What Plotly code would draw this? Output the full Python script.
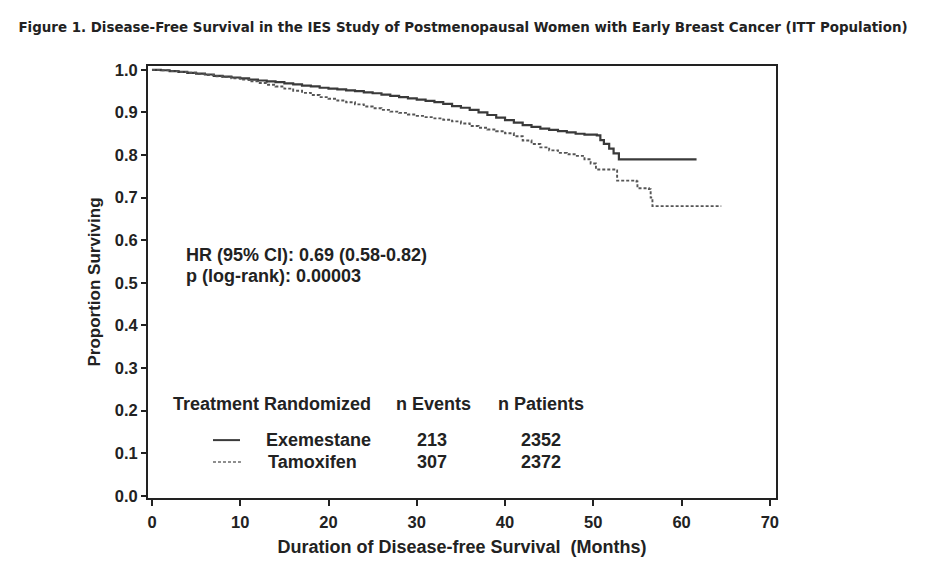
import plotly.graph_objects as go

# Exemestane Kaplan-Meier estimate (months, proportion surviving)
exe_months = [0, 1, 2, 3, 4, 5, 6, 7, 8, 9, 10, 11, 12, 13, 14, 15, 16, 17, 18, 19,
              20, 21, 22, 23, 24, 25, 26, 27, 28, 29, 30, 31, 32, 33, 34, 35, 36, 37,
              38, 39, 40, 41, 42, 43, 44, 45, 46, 47, 48, 49, 50.4, 50.8, 51.2, 51.8,
              52.3, 52.9, 61.7]
exe_surv = [1.000, 0.999, 0.997, 0.995, 0.993, 0.991, 0.989, 0.986, 0.984, 0.982,
            0.980, 0.977, 0.975, 0.973, 0.971, 0.968, 0.966, 0.963, 0.961, 0.958,
            0.956, 0.954, 0.952, 0.950, 0.947, 0.945, 0.942, 0.939, 0.936, 0.933,
            0.930, 0.927, 0.924, 0.920, 0.915, 0.911, 0.906, 0.900, 0.894, 0.888,
            0.882, 0.876, 0.870, 0.866, 0.862, 0.859, 0.856, 0.853, 0.850, 0.848,
            0.846, 0.835, 0.826, 0.815, 0.804, 0.790, 0.790]

# Tamoxifen Kaplan-Meier estimate
tam_months = [0, 1, 2, 3, 4, 5, 6, 7, 8, 9, 10, 11, 12, 13, 14, 15, 16, 17, 18, 19,
              20, 21, 22, 23, 24, 25, 26, 27, 28, 29, 30, 31, 32, 33, 34, 35, 36, 37,
              38, 39, 40, 41, 42, 43, 44, 45, 46, 47, 48, 49, 49.7, 50.3, 52.5, 52.7,
              54.9, 55.0, 56.3, 56.5, 56.7, 64.5]
tam_surv = [1.000, 0.999, 0.997, 0.995, 0.993, 0.990, 0.988, 0.985, 0.983, 0.980,
            0.977, 0.973, 0.969, 0.965, 0.961, 0.956, 0.951, 0.946, 0.941, 0.936,
            0.932, 0.928, 0.924, 0.919, 0.914, 0.910, 0.906, 0.902, 0.899, 0.895,
            0.892, 0.889, 0.886, 0.883, 0.879, 0.874, 0.868, 0.864, 0.860, 0.856,
            0.851, 0.844, 0.834, 0.826, 0.818, 0.811, 0.805, 0.802, 0.798, 0.790,
            0.780, 0.766, 0.764, 0.740, 0.738, 0.722, 0.720, 0.700, 0.680, 0.680]

treatments = ["Exemestane", "Tamoxifen"]
n_events = [213, 307]
n_patients = [2352, 2372]

x_ticks = [0, 10, 20, 30, 40, 50, 60, 70]
y_ticks = [0.0, 0.1, 0.2, 0.3, 0.4, 0.5, 0.6, 0.7, 0.8, 0.9, 1.0]

FONT = "Liberation Sans, Arial, Helvetica, sans-serif"
TXT = "#222222"

# page has an 8px body margin; figure sized to fit the 952x584 window
W, H = 944, 576

fig = go.Figure()
fig.add_trace(go.Scatter(x=exe_months, y=exe_surv, mode="lines", line_shape="hv",
                         line=dict(color="#3a3a3a", width=2.2), name="Exemestane",
                         showlegend=False))
fig.add_trace(go.Scatter(x=tam_months, y=tam_surv, mode="lines", line_shape="hv",
                         line=dict(color="#555555", width=1.9, dash="3px,2px"),
                         name="Tamoxifen", showlegend=False))

ann = []
def txt(x, y, s, anchor="left", size=18):
    ann.append(dict(xref="paper", yref="paper", x=x, y=y, text="<b>%s</b>" % s,
                    showarrow=False, xanchor=anchor, yanchor="middle",
                    font=dict(family=FONT, size=size, color=TXT)))

txt(0.0573, 0.5625, "HR (95% CI): 0.69 (0.58-0.82)")
txt(0.0573, 0.514, "p (log-rank): 0.00003")
txt(0.0366, 0.2176, "Treatment Randomized")
txt(0.455, 0.2176, "n Events", "center")
txt(0.626, 0.2176, "n Patients", "center")
rows_y = [0.134, 0.0833]
name_x = [0.1847, 0.188]
for i in range(2):
    txt(name_x[i], rows_y[i], treatments[i])
    txt(0.452, rows_y[i], str(n_events[i]), "center")
    txt(0.626, rows_y[i], str(n_patients[i]), "center")

shapes = [
    dict(type="line", xref="paper", yref="paper", x0=0.1035, x1=0.1465,
         y0=rows_y[0], y1=rows_y[0], line=dict(color="#3a3a3a", width=2)),
    dict(type="line", xref="paper", yref="paper", x0=0.1035, x1=0.148,
         y0=rows_y[1], y1=rows_y[1], line=dict(color="#6a6a6a", width=1.6, dash="3px,2px")),
]

fig.update_layout(
    width=W, height=H,
    margin=dict(l=140, r=176, t=58, b=86),
    paper_bgcolor="white", plot_bgcolor="white",
    title=dict(text="<b>Figure 1. Disease-Free Survival in the IES Study of Postmenopausal Women with Early Breast Cancer (ITT Population)</b>",
               x=455 / W, xref="container", xanchor="center",
               y=1 - 19 / H, yref="container", yanchor="middle",
               font=dict(family="Liberation Sans Narrow, DejaVu Sans Condensed, sans-serif", size=14.9, color=TXT)),
    annotations=ann, shapes=shapes,
    xaxis=dict(range=[-0.45, 70.7], tickvals=x_ticks, ticks="outside", ticklen=6,
               tickwidth=1.5, tickcolor="#222", showline=True, linecolor="#222",
               linewidth=2, mirror=True, showgrid=False, zeroline=False,
               ticklabelstandoff=2,
               tickfont=dict(family=FONT, size=16.5, color=TXT, weight="bold"),
               title=dict(text="<b>Duration of Disease-free Survival  (Months)</b>",
                          font=dict(family=FONT, size=18, color=TXT), standoff=11)),
    yaxis=dict(range=[-0.005, 1.009], tickvals=y_ticks, ticktext=["%.1f" % v for v in y_ticks],
               ticks="outside", ticklen=5, tickwidth=1.5, tickcolor="#222",
               showline=True, linecolor="#222", linewidth=2, mirror=True,
               showgrid=False, zeroline=False,
               tickfont=dict(family=FONT, size=16.5, color=TXT, weight="bold"),
               title=dict(text="<b>Proportion Surviving</b>",
                          font=dict(family=FONT, size=17, color=TXT), standoff=10)),
)

fig.write_html("out.html")
